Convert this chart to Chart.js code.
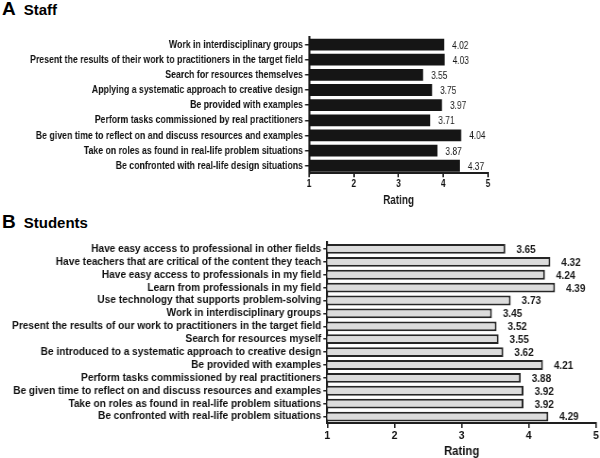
<!DOCTYPE html>
<html lang="en">
<head>
<meta charset="UTF-8">
<title>Ratings by staff and students</title>
<script src="https://cdn.jsdelivr.net/npm/chart.js@4"></script>
<style>
    html, body {
        margin: 0;
        padding: 0;
        width: 600px;
        height: 458px;
        overflow: hidden;
        background: #fff;
        font-family: "Liberation Sans", Arial, sans-serif;
    }

    .panel-title {
        position: absolute;
        left: 2px;
        line-height: 19px;
        font-weight: bold;
        color: #000;
        white-space: nowrap;
    }

    .panel-title .letter {
        font-size: 19px;
        margin-right: 8px;
    }

    .panel-title .name {
        font-size: 15px;
    }

    /* the figure's panels are squeezed horizontally, so each chart is drawn
       wider and narrowed with a transform */
    .chart-box {
        position: absolute;
        left: 0;
        transform-origin: 0 0;
    }

    .chart-box canvas {
        display: block;
    }

    #staffBox { top: 27px; }
    #studentBox { top: 232px; }
</style>
</head>
<body>

<div class="panel-title" style="top:-1px"><span class="letter">A</span><span class="name">Staff</span></div>
<div class="chart-box" id="staffBox"><canvas id="staffChart"></canvas></div>

<div class="panel-title" style="top:212px"><span class="letter">B</span><span class="name">Students</span></div>
<div class="chart-box" id="studentBox"><canvas id="studentChart"></canvas></div>

<script>
    // ---- data ----
    const staffCategories = [
        'Work in interdisciplinary groups',
        'Present the results of their work to practitioners in the target field',
        'Search for resources themselves',
        'Applying a systematic approach to creative design',
        'Be provided with examples',
        'Perform tasks commissioned by real practitioners',
        'Be given time to reflect on and discuss resources and examples',
        'Take on roles as found in real-life problem situations',
        'Be confronted with real-life design situations'
    ];
    // bar lengths as drawn (the printed label of row 7 reads 4.04)
    const staffRatings = [4.02, 4.03, 3.55, 3.75, 3.97, 3.71, 4.40, 3.87, 4.37];
    const staffValueLabels = ['4.02', '4.03', '3.55', '3.75', '3.97', '3.71', '4.04', '3.87', '4.37'];

    const studentCategories = [
        'Have easy access to professional in other fields',
        'Have teachers that are critical of the content they teach',
        'Have easy access to professionals in my field',
        'Learn from professionals in my field',
        'Use technology that supports problem-solving',
        'Work in interdisciplinary groups',
        'Present the results of our work to practitioners in the target field',
        'Search for resources myself',
        'Be introduced to a systematic approach to creative design',
        'Be provided with examples',
        'Perform tasks commissioned by real practitioners',
        'Be given time to reflect on and discuss resources and examples',
        'Take on roles as found in real-life problem situations',
        'Be confronted with real-life problem situations'
    ];
    const studentRatings = [3.65, 4.32, 4.24, 4.39, 3.73, 3.45, 3.52, 3.55, 3.62, 4.21, 3.88, 3.92, 3.92, 4.29];
    const studentValueLabels = ['3.65', '4.32', '4.24', '4.39', '3.73', '3.45', '3.52', '3.55', '3.62', '4.21', '3.88', '3.92', '3.92', '4.29'];

    const ratingMin = 1;
    const ratingMax = 5;

    const FONT = '"Liberation Sans", Arial, sans-serif';
    const measureCtx = document.createElement('canvas').getContext('2d');

    // how much a panel is squeezed: longest label at fontSize must end up targetWidth wide
    function panelScale(texts, fontSize, targetWidth) {
        measureCtx.font = 'bold ' + fontSize + 'px ' + FONT;
        const widest = Math.max(...texts.map(t => measureCtx.measureText(t).width));
        const width = Math.round(600 * widest / targetWidth);
        return { width: width, sx: 600 / width };
    }

    // numbers printed to the right of each bar
    const barValuePlugin = {
        id: 'barValues',
        afterDatasetsDraw(chart, args, opts) {
            const ctx = chart.ctx;
            ctx.save();
            ctx.font = opts.font;
            ctx.fillStyle = '#1a1a1a';
            ctx.textAlign = 'left';
            ctx.textBaseline = 'middle';
            chart.getDatasetMeta(0).data.forEach((bar, i) => {
                ctx.fillText(opts.texts[i], bar.x + opts.gap, bar.y + 1);
            });
            ctx.restore();
        }
    };

    function makeChart(boxId, canvasId, categories, values, texts, cfg) {
        const { width, sx } = panelScale(categories, cfg.labelSize, cfg.labelWidth);
        const box = document.getElementById(boxId);
        const canvas = document.getElementById(canvasId);
        box.style.transform = 'scaleX(' + sx + ')';
        canvas.width = width;
        canvas.height = cfg.height;

        return new Chart(canvas, {
            type: 'bar',
            data: {
                labels: categories,
                datasets: [{
                    data: values,
                    backgroundColor: cfg.fill,
                    borderColor: cfg.border,
                    borderWidth: cfg.borderWidth,
                    borderSkipped: false,
                    barPercentage: cfg.barPercentage,
                    categoryPercentage: 1
                }]
            },
            options: {
                indexAxis: 'y',
                responsive: false,
                animation: false,
                layout: { padding: { top: cfg.top, right: cfg.right / sx, bottom: 0, left: 0 } },
                plugins: {
                    legend: { display: false },
                    tooltip: { enabled: false },
                    barValues: { texts: texts, gap: cfg.valueGap / sx, font: cfg.valueFont }
                },
                scales: {
                    y: {
                        afterFit: s => { s.width = cfg.axisLeft / sx; },
                        grid: { offset: false, drawOnChartArea: false, tickLength: 4 / sx, color: '#222', lineWidth: 1.5 },
                        border: { color: '#1e1e1e', width: 2 / sx },
                        ticks: {
                            autoSkip: false,
                            padding: 2 / sx,
                            color: '#111',
                            font: { family: FONT, weight: 'bold', size: cfg.labelSize }
                        }
                    },
                    x: {
                        min: ratingMin,
                        max: ratingMax,
                        afterFit: s => { s.height = cfg.xHeight; },
                        grid: { drawOnChartArea: false, tickLength: cfg.xTick, color: '#222', lineWidth: 1.5 / sx },
                        border: { color: '#1e1e1e', width: 2 },
                        ticks: {
                            stepSize: 1,
                            padding: cfg.xTickPad,
                            color: '#111',
                            font: { family: FONT, weight: 'bold', size: 11 }
                        },
                        title: {
                            display: true,
                            text: 'Rating',
                            color: '#111',
                            padding: 0,
                            font: { family: FONT, weight: 'bold', size: cfg.titleSize, lineHeight: 1 }
                        }
                    }
                }
            },
            plugins: [barValuePlugin]
        });
    }

    makeChart('staffBox', 'staffChart', staffCategories, staffRatings, staffValueLabels, {
        labelSize: 11.5,
        labelWidth: 273,
        height: 180,
        fill: '#151515',
        border: '#151515',
        borderWidth: 0,
        barPercentage: 0.78,
        top: 10,
        right: 112,
        axisLeft: 309,
        xHeight: 33.7,
        xTick: 4,
        xTickPad: 0,
        titleSize: 13,
        valueGap: 8,
        valueFont: '11px ' + FONT
    });

    makeChart('studentBox', 'studentChart', studentCategories, studentRatings, studentValueLabels, {
        labelSize: 10.7,
        labelWidth: 309,
        height: 226,
        fill: '#dcdcdc',
        border: '#262626',
        borderWidth: 2,
        barPercentage: 0.76,
        top: 10.5,
        right: 4,
        axisLeft: 327.3,
        xHeight: 35,
        xTick: 5,
        xTickPad: 1,
        titleSize: 12,
        valueGap: 11,
        valueFont: 'bold 10.5px ' + FONT
    });
</script>
</body>
</html>
